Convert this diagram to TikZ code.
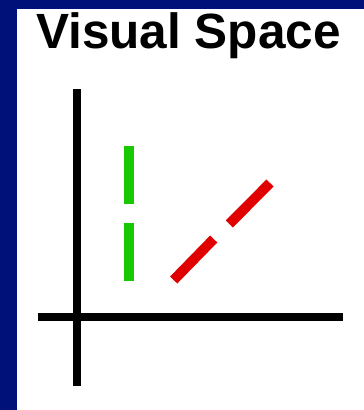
\documentclass[tikz,border=0pt]{standalone}
\usepackage{fontspec}
\setmainfont{Liberation Sans}
\definecolor{navybg}{RGB}{0,18,122}
\definecolor{greenbar}{RGB}{24,200,0}
\definecolor{redbar}{RGB}{224,0,0}
\tikzset{
  axis/.style={line width=7.5pt, black},
  greenseg/.style={line width=10pt, greenbar},
  redseg/.style={line width=10pt, redbar}
}
\begin{document}
\begin{tikzpicture}[x=1pt,y=-1pt]
\useasboundingbox (0,0) rectangle (364,410);
\fill[navybg] (0,0) rectangle (364,410);
\fill[white] (17,9) rectangle (364,410);
\node[font=\bfseries\fontsize{49.5}{52}\selectfont, anchor=base, inner sep=0pt] (title) at (188.5,48) {Visual Space};
\coordinate (ytop) at (77,89);
\coordinate (ybot) at (77,386);
\coordinate (xl) at (38,317);
\coordinate (xr) at (343,317);
\draw[axis] (ytop) -- (ybot);
\draw[axis] (xl) -- (xr);
\coordinate (g1a) at (129,146);
\coordinate (g1b) at (129,204);
\coordinate (g2a) at (129,223);
\coordinate (g2b) at (129,281);
\draw[greenseg] (g1a) -- (g1b);
\draw[greenseg] (g2a) -- (g2b);
\coordinate (r1a) at (173.7,280);
\coordinate (r1b) at (213.7,239);
\coordinate (r2a) at (229.3,224);
\coordinate (r2b) at (270,183);
\draw[redseg] (r1a) -- (r1b);
\draw[redseg] (r2a) -- (r2b);
\end{tikzpicture}
\end{document}
